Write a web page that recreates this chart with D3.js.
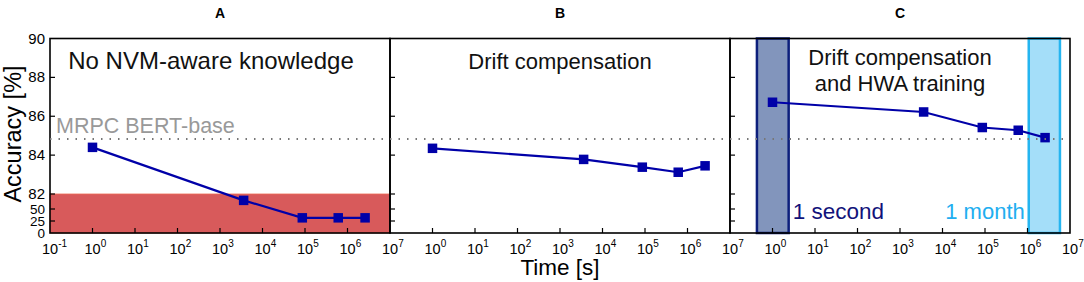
<!DOCTYPE html>
<html>
<head>
<meta charset="utf-8">
<style>
  body { margin: 0; background: #fff; }
  svg { display: block; font-family: 'Liberation Sans', Arial, Helvetica, sans-serif; }
</style>
</head>
<body>
<svg width="1084" height="282"></svg>
<script src="https://d3js.org/d3.v7.min.js"></script>
<script>
// data
const times = [1, 3600, 86400, 604800, 2592000]; // 1 s, 1 h, 1 day, 1 week, 1 month
const accA = [84.4, 68.4, 31.6, 31.6, 31.6];
const accB = [84.35, 83.78, 83.38, 83.12, 83.45];
const accC = [86.72, 86.22, 85.42, 85.28, 84.9];
const panelLetters = ["A", "B", "C"];
const panelTitles = [["No NVM-aware knowledge"], ["Drift compensation"], ["Drift compensation", "and HWA training"]];
const yTicks = [0, 25, 50, 82, 84, 86, 88, 90];
const xExps = [-1, 0, 1, 2, 3, 4, 5, 6, 7];
const baseline = 84.83;          // MRPC BERT-base
const failBand = [0, 82];        // red region in A
const secondBox = [0.43, 2.4];   // "1 second" window
const monthBox = [1.07e6, 5.8e6]; // "1 month" window

const svg = d3.select("svg");
const yTop = 38.5, yBottom = 233;

// broken y axis: 0..82 squeezed, 82..90 expanded
const y = d3.scaleLinear()
  .domain([0, 25, 50, 82, 90])
  .range([yBottom, 221, 209, 194, yTop]);

const panelX = [[50, 390], [390, 730], [730, 1070]];
const series = [accA, accB, accC];

panelX.forEach((px, i) => {
  const x = d3.scaleLog().domain([0.1, 1e7]).range(px);
  const g = svg.append("g");
  const cx = (px[0] + px[1]) / 2;

  if (i === 0) {
    g.append("rect")
      .attr("x", px[0]).attr("width", px[1] - px[0])
      .attr("y", y(failBand[1])).attr("height", y(failBand[0]) - y(failBand[1]))
      .style("fill", "#d85a5b")
      .style("stroke", "#ee6a55").style("stroke-width", 0.8);
  }

  if (i === 2) {
    g.append("rect")
      .attr("x", x(secondBox[0])).attr("width", x(secondBox[1]) - x(secondBox[0]))
      .attr("y", y(90)).attr("height", y(0) - y(90))
      .style("fill", "#8295bc").style("stroke", "#0d1f7c").style("stroke-width", 2.5);
    g.append("rect")
      .attr("x", x(monthBox[0])).attr("width", x(monthBox[1]) - x(monthBox[0]))
      .attr("y", y(90)).attr("height", y(0) - y(90))
      .style("fill", "#a4def9").style("stroke", "#25b5f0").style("stroke-width", 2.5);
    g.append("text")
      .attr("x", x(secondBox[1]) + 4).attr("y", 219)
      .style("font-size", "22.5px").style("fill", "#11127a")
      .text("1 second");
    g.append("text")
      .attr("x", x(monthBox[0]) - 4).attr("y", 219)
      .attr("text-anchor", "end")
      .style("font-size", "22px").style("fill", "#21aef0")
      .text("1 month");
  }

  // x ticks (inward)
  g.selectAll(".xt")
    .data(xExps.slice(1, -1))
    .join("line")
    .attr("x1", d => x(Math.pow(10, d))).attr("x2", d => x(Math.pow(10, d)))
    .attr("y1", yBottom).attr("y2", yBottom - 5)
    .style("stroke", "#000").style("stroke-width", 1.2);

  // x tick labels: "10" centred on the tick, exponent to the right
  const labs = g.selectAll(".xl")
    .data(i === 0 ? xExps : xExps.slice(1))
    .join("text")
    .attr("x", d => x(Math.pow(10, d)) - 8)
    .attr("y", 254)
    .style("font-size", "14.5px");
  labs.append("tspan").text("10");
  labs.append("tspan").attr("dy", -7).style("font-size", "10px").text(d => d);

  // y ticks (inward)
  g.selectAll(".yt")
    .data(yTicks.slice(1, -1))
    .join("line")
    .attr("x1", px[0]).attr("x2", px[0] + 5)
    .attr("y1", d => y(d)).attr("y2", d => y(d))
    .style("stroke", "#000").style("stroke-width", 1.2);

  // frame
  g.append("rect")
    .attr("x", px[0]).attr("y", yTop)
    .attr("width", px[1] - px[0]).attr("height", yBottom - yTop)
    .style("fill", "none").style("stroke", "#000").style("stroke-width", 1.6);

  // panel letter
  g.append("text")
    .attr("x", cx).attr("y", 18)
    .attr("text-anchor", "middle")
    .style("font-size", "14px").style("font-weight", "bold")
    .text(panelLetters[i]);

  // panel title
  panelTitles[i].forEach((t, k) => {
    g.append("text")
      .attr("x", i === 0 ? cx - 9 : cx)
      .attr("y", (i === 2 ? 65 : 69) + k * 26)
      .attr("text-anchor", "middle")
      .style("font-size", i === 0 ? "24px" : "22px").style("fill", "#111")
      .text(t);
  });

  // data line + markers
  const pts = times.map((t, k) => [x(t), y(series[i][k])]);
  g.append("path")
    .attr("d", d3.line()(pts))
    .style("fill", "none").style("stroke", "#0000a8").style("stroke-width", 2.2);
  g.selectAll(".m")
    .data(pts)
    .join("rect")
    .attr("x", d => d[0] - 4.75).attr("y", d => d[1] - 4.75)
    .attr("width", 9.5).attr("height", 9.5)
    .style("fill", "#0000a8");
});

// baseline dotted line across all panels
svg.append("line")
  .attr("x1", 50).attr("x2", 1070)
  .attr("y1", y(baseline)).attr("y2", y(baseline))
  .style("stroke", "#777").style("stroke-width", 2)
  .style("stroke-dasharray", "1.5,7");
svg.append("text")
  .attr("x", 56).attr("y", y(baseline) - 6)
  .style("font-size", "21.5px").style("fill", "#999")
  .text("MRPC BERT-base");

// y tick labels
svg.selectAll(".yl")
  .data(yTicks)
  .join("text")
  .attr("x", 45).attr("y", d => y(d) + 5)
  .attr("text-anchor", "end")
  .style("font-size", d => d < 82 ? "13.5px" : "15px")
  .text(d => d);

// axis titles
svg.append("text")
  .attr("transform", "translate(21,134) rotate(-90)")
  .attr("text-anchor", "middle")
  .style("font-size", "23.5px")
  .text("Accuracy [%]");
svg.append("text")
  .attr("x", 560).attr("y", 275)
  .attr("text-anchor", "middle")
  .style("font-size", "22.5px")
  .text("Time [s]");
</script>
</body>
</html>
